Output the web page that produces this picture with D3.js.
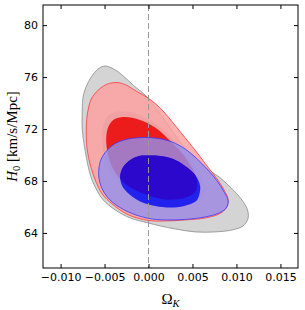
<!DOCTYPE html>
<html>
<head>
<meta charset="utf-8">
<script src="https://cdn.jsdelivr.net/npm/d3@7"></script>
<style>
  html, body { margin: 0; padding: 0; background: #fff; }
  .tick text { font-family: "DejaVu Sans", sans-serif; font-size: 11px; fill: #000; }
  .tick line { stroke: #000; }
  .label { font-family: "Liberation Serif", "DejaVu Serif", serif; fill: #000; }
</style>
</head>
<body>
<svg id="chart"></svg>
<script>
// Axis ranges and ticks
const xDomain = [-0.012, 0.017];
const yDomain = [61.3, 81.55];
const xTicks = [-0.010, -0.005, 0.000, 0.005, 0.010, 0.015];
const yTicks = [64, 68, 72, 76, 80];

// Contours, [Omega_K, H0]
const grayOuter = [
  [-0.00492, 76.85], [-0.00390, 76.60], [-0.00290, 76.10], [-0.00174, 75.38],
  [-0.00015, 74.46], [0.00099, 73.46], [0.00224, 72.31], [0.00360, 71.00],
  [0.00497, 69.92], [0.00656, 69.00], [0.00803, 68.31], [0.00940, 67.46],
  [0.01053, 66.62], [0.01122, 65.85], [0.01133, 65.15], [0.01076, 64.54],
  [0.00951, 64.23], [0.00758, 64.08], [0.00530, 64.08], [0.00303, 64.31],
  [0.00133, 64.54], [-0.00003, 64.77], [-0.00208, 65.15], [-0.00378, 65.77],
  [-0.00515, 66.54], [-0.00583, 67.23], [-0.00651, 68.23], [-0.00697, 69.46],
  [-0.00731, 70.77], [-0.00753, 71.92], [-0.00753, 73.46], [-0.00742, 74.54],
  [-0.00696, 75.46], [-0.00628, 76.23], [-0.00560, 76.69]
];
const grayInner = [
  [-0.00344, 73.35], [-0.00208, 73.31], [-0.00060, 72.92], [0.00099, 72.31],
  [0.00247, 71.46], [0.00394, 70.46], [0.00519, 69.38], [0.00610, 68.23],
  [0.00644, 67.15], [0.00576, 66.46], [0.00417, 66.15], [0.00190, 66.23],
  [-0.00038, 66.62], [-0.00242, 67.31], [-0.00401, 68.31], [-0.00492, 69.54],
  [-0.00526, 70.77], [-0.00526, 71.92], [-0.00492, 72.69], [-0.00435, 73.15]
];
const redOuter = [
  [-0.00354, 75.58], [-0.00253, 75.38], [-0.00140, 74.92], [-0.00003, 74.38],
  [0.00144, 73.54], [0.00281, 72.46], [0.00428, 71.23], [0.00564, 70.08],
  [0.00667, 69.15], [0.00781, 68.15], [0.00860, 67.31], [0.00906, 66.54],
  [0.00883, 65.92], [0.00815, 65.50], [0.00644, 65.15], [0.00417, 65.00],
  [0.00190, 64.92], [-0.00003, 64.96], [-0.00231, 65.40], [-0.00413, 66.23],
  [-0.00526, 67.00], [-0.00606, 68.08], [-0.00662, 69.23], [-0.00697, 70.38],
  [-0.00708, 71.54], [-0.00697, 73.08], [-0.00651, 74.31], [-0.00572, 75.00],
  [-0.00469, 75.46]
];
const redInner = [
  [-0.00299, 72.92], [-0.00174, 72.85], [-0.00038, 72.54], [0.00099, 72.00],
  [0.00213, 71.31], [0.00338, 70.46], [0.00440, 69.62], [0.00519, 68.69],
  [0.00553, 67.85], [0.00530, 67.15], [0.00405, 66.69], [0.00190, 66.58],
  [-0.00015, 66.92], [-0.00196, 67.46], [-0.00333, 68.23], [-0.00424, 69.23],
  [-0.00469, 70.31], [-0.00481, 71.31], [-0.00458, 72.15], [-0.00401, 72.69]
];
const blueOuter = [
  [-0.00038, 71.35], [0.00110, 71.27], [0.00269, 71.00], [0.00417, 70.46],
  [0.00542, 69.77], [0.00667, 68.92], [0.00781, 68.00], [0.00860, 67.15],
  [0.00906, 66.46], [0.00883, 65.92], [0.00803, 65.54], [0.00644, 65.23],
  [0.00417, 65.04], [0.00190, 65.00], [-0.00003, 65.12], [-0.00231, 65.62],
  [-0.00413, 66.38], [-0.00515, 67.23], [-0.00560, 68.08], [-0.00566, 68.85],
  [-0.00538, 69.69], [-0.00469, 70.38], [-0.00367, 70.92], [-0.00231, 71.23]
];
const blueInner = [
  [-0.00003, 69.96], [0.00133, 69.92], [0.00281, 69.69], [0.00417, 69.15],
  [0.00530, 68.46], [0.00587, 67.62], [0.00576, 66.92], [0.00542, 66.46],
  [0.00405, 66.08], [0.00247, 65.96], [0.00076, 66.08], [-0.00083, 66.38],
  [-0.00208, 66.92], [-0.00299, 67.62], [-0.00322, 68.38], [-0.00288, 69.08],
  [-0.00208, 69.62], [-0.00106, 69.92]
];

const W = 305, H = 310;
const margin = { top: 5, right: 7, bottom: 42, left: 43 };
const width = W - margin.left - margin.right;
const height = H - margin.top - margin.bottom;

const svg = d3.select('#chart').attr('width', W).attr('height', H);
const g = svg.append('g').attr('transform', `translate(${margin.left},${margin.top})`);

const x = d3.scaleLinear().domain(xDomain).range([0, width]);
const y = d3.scaleLinear().domain(yDomain).range([height, 0]);

const defs = svg.append('defs');
defs.append('clipPath').attr('id', 'plot-clip')
  .append('rect').attr('width', width).attr('height', height);

const contour = d3.line()
  .x(d => x(d[0]))
  .y(d => y(d[1]))
  .curve(d3.curveCatmullRomClosed.alpha(0.5));

// overlap of blue and red 68% regions is drawn darker
defs.append('clipPath').attr('id', 'red-inner-clip')
  .append('path').attr('d', contour(redInner));

const plot = g.append('g').attr('clip-path', 'url(#plot-clip)');

plot.append('path').attr('d', contour(grayOuter))
  .attr('fill', '#d4d4d4').attr('stroke', '#8c8c8c').attr('stroke-width', 0.8);
plot.append('path').attr('d', contour(grayInner))
  .attr('fill', '#b6b6b6');

plot.append('path').attr('d', contour(redOuter))
  .attr('fill', '#ff9d9d').attr('fill-opacity', 0.8)
  .attr('stroke', '#ff3a3a').attr('stroke-width', 0.8);
plot.append('path').attr('d', contour(redInner))
  .attr('fill', '#ec1c1c');

plot.append('path').attr('d', contour(blueOuter))
  .attr('fill', '#9490ec').attr('fill-opacity', 0.8)
  .attr('stroke', '#3a3aff').attr('stroke-width', 0.8);
plot.append('path').attr('d', contour(blueInner))
  .attr('fill', '#2222ee');
plot.append('path').attr('d', contour(blueInner))
  .attr('clip-path', 'url(#red-inner-clip)')
  .attr('fill', '#2c08cc');

// dashed zero line
plot.append('line')
  .attr('x1', x(0)).attr('x2', x(0))
  .attr('y1', 0).attr('y2', height)
  .attr('stroke', '#999').attr('stroke-width', 1)
  .attr('stroke-dasharray', '6,3');

// axes, ticks pointing inward on all four sides
g.append('g')
  .attr('transform', `translate(0,${height})`)
  .call(d3.axisBottom(x).tickValues(xTicks).tickFormat(d3.format('.3f'))
    .tickSize(-4).tickSizeOuter(0).tickPadding(5))
  .call(a => a.select('.domain').remove());

g.append('g')
  .call(d3.axisLeft(y).tickValues(yTicks).tickFormat(d3.format('d'))
    .tickSize(-4).tickSizeOuter(0).tickPadding(5))
  .call(a => a.select('.domain').remove());

g.append('g')
  .call(d3.axisTop(x).tickValues(xTicks).tickFormat('').tickSize(-4).tickSizeOuter(0))
  .call(a => a.select('.domain').remove());

g.append('g')
  .attr('transform', `translate(${width},0)`)
  .call(d3.axisRight(y).tickValues(yTicks).tickFormat('').tickSize(-4).tickSizeOuter(0))
  .call(a => a.select('.domain').remove());

g.append('rect')
  .attr('width', width).attr('height', height)
  .attr('fill', 'none').attr('stroke', '#000').attr('stroke-width', 1);

// axis labels
const xl = svg.append('text').attr('class', 'label')
  .attr('x', margin.left + width / 2).attr('y', 304)
  .attr('text-anchor', 'middle').style('font-size', '15px');
xl.append('tspan').text('Ω');
xl.append('tspan').attr('font-style', 'italic').attr('font-size', '10.5px')
  .attr('dy', 3).text('K');

const yl = svg.append('text').attr('class', 'label')
  .attr('transform', `translate(17,${margin.top + height / 2}) rotate(-90)`)
  .attr('text-anchor', 'middle').style('font-size', '15px');
yl.append('tspan').attr('font-style', 'italic').text('H');
yl.append('tspan').attr('font-size', '10.5px').attr('dy', 3).text('0');
yl.append('tspan').attr('dy', -3).text(' [km/s/Mpc]');
</script>
</body>
</html>
